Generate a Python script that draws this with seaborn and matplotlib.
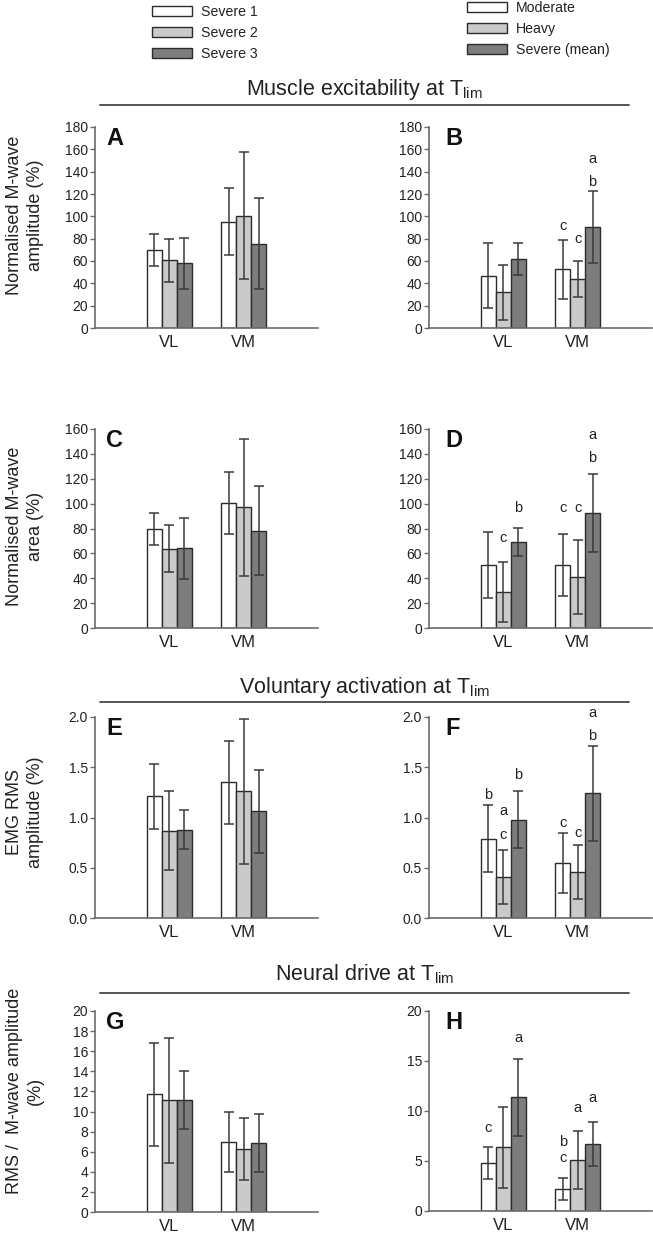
import pandas as pd
import matplotlib.pyplot as plt
import seaborn as sns
from matplotlib.lines import Line2D

# categories
muscles = ["VL", "VM"]
severe_groups = ["Severe 1", "Severe 2", "Severe 3"]
domain_groups = ["Moderate", "Heavy", "Severe (mean)"]

# values: one row per group, [VL, VM]
A_mean = [[70, 95], [60.5, 100.5], [58, 75.5]]
A_sd = [[14.5, 30], [19.5, 57], [22.7, 41]]
B_mean = [[47, 52.5], [32, 44], [62, 90.5]]
B_sd = [[29, 26.7], [24.5, 16], [14.3, 32]]
C_mean = [[79.6, 100.5], [63.8, 97], [64, 78.3]]
C_sd = [[12.5, 25], [19, 55], [24.4, 36]]
D_mean = [[51, 50.7], [29, 41.3], [68.9, 92.5]]
D_sd = [[26.5, 25.2], [24, 29.7], [11.3, 31]]
E_mean = [[1.21, 1.35], [0.87, 1.26], [0.88, 1.06]]
E_sd = [[0.32, 0.41], [0.39, 0.72], [0.19, 0.41]]
F_mean = [[0.79, 0.55], [0.41, 0.46], [0.98, 1.24]]
F_sd = [[0.33, 0.30], [0.27, 0.27], [0.28, 0.47]]
G_mean = [[11.7, 7.0], [11.1, 6.3], [11.15, 6.9]]
G_sd = [[5.15, 3.0], [6.2, 3.1], [2.9, 2.9]]
H_mean = [[4.85, 2.2], [6.4, 5.1], [11.4, 6.7]]
H_sd = [[1.6, 1.07], [4.05, 2.93], [3.85, 2.17]]

# significance letters: (muscle index, group index, letter, y)
B_notes = [(1, 0, "c", 91.5), (1, 1, "c", 80), (1, 2, "b", 131), (1, 2, "a", 151)]
D_notes = [(0, 1, "c", 72), (0, 2, "b", 96.5), (1, 0, "c", 96.5), (1, 1, "c", 96.5),
           (1, 2, "b", 137), (1, 2, "a", 155)]
F_notes = [(0, 0, "b", 1.22), (0, 1, "a", 1.065), (0, 1, "c", 0.83), (0, 2, "b", 1.42),
           (1, 0, "c", 0.95), (1, 1, "c", 0.85), (1, 2, "b", 1.81), (1, 2, "a", 2.04)]
H_notes = [(0, 0, "c", 8.3), (0, 2, "a", 17.3), (1, 0, "b", 6.9), (1, 0, "c", 5.3),
           (1, 1, "a", 10.3), (1, 2, "a", 11.3)]

sns.set_theme(style="ticks")
plt.rcParams["font.family"] = ["Liberation Sans", "DejaVu Sans"]
plt.rcParams["mathtext.fontset"] = "custom"
plt.rcParams["mathtext.rm"] = "Liberation Sans"
plt.rcParams["mathtext.it"] = "Liberation Sans:italic"

W, H = 653, 1240
fig = plt.figure(figsize=(W / 100, H / 100), dpi=100)

fills = ["#ffffff", "#c9cacc", "#7c7d80"]
axis_col = "#6b6b6b"
text_col = "#222222"


def add_ax(left, top, right, bottom):
    return fig.add_axes([left / W, 1 - bottom / H, (right - left) / W, (bottom - top) / H])


def draw_panel(ax, means, sds, groups, ymax, step, letter, letter_x, fmt="{:g}", notes=()):
    rows = []
    for g, m_row, s_row in zip(groups, means, sds):
        for mus, m, s in zip(muscles, m_row, s_row):
            rows.append({"muscle": mus, "group": g, "mean": m, "sd": s})
    df = pd.DataFrame(rows)
    sns.barplot(data=df, x="muscle", y="mean", hue="group", order=muscles,
                hue_order=groups, palette=fills, width=0.6, errorbar=None,
                edgecolor="#2b2b2b", linewidth=1.0, legend=False, ax=ax)
    centers = {}
    for gi, cont in enumerate(ax.containers):
        for bar in cont:
            xc = bar.get_x() + bar.get_width() / 2
            centers[(int(round(xc)), gi)] = xc
    for gi, g in enumerate(groups):
        for mi in range(len(muscles)):
            ax.errorbar(centers[(mi, gi)], means[gi][mi], yerr=sds[gi][mi], fmt="none",
                        ecolor="#3a3a3a", elinewidth=1.1, capsize=3.5, capthick=1.1,
                        zorder=4, clip_on=False)
    for mi, gi, t, y in notes:
        ax.text(centers[(mi, gi)], y, t, ha="center", va="center", fontsize=10.5,
                color=text_col)

    ax.set_xlim(-1, 2)
    ax.set_ylim(0, ymax)
    ticks = [i * step for i in range(int(round(ymax / step)) + 1)]
    ax.set_yticks(ticks)
    ax.set_yticklabels([fmt.format(t) for t in ticks])
    ax.set_xlabel("")
    ax.set_ylabel("")
    sns.despine(ax=ax)
    for side in ["left", "bottom"]:
        ax.spines[side].set_color(axis_col)
        ax.spines[side].set_linewidth(1.2)
    ax.tick_params(axis="y", length=3.5, width=1.0, color=axis_col, labelsize=10,
                   labelcolor=text_col, pad=1.5)
    ax.tick_params(axis="x", length=0, labelsize=12, labelcolor=text_col, pad=5)
    ax.text(letter_x, 0.998, letter, transform=ax.transAxes, fontsize=17,
            fontweight="bold", ha="left", va="top", color="#111111")


ax_a = add_ax(95, 127, 318, 328)
ax_b = add_ax(429, 127, 652, 328)
ax_c = add_ax(95, 429, 318, 628)
ax_d = add_ax(429, 429, 652, 628)
ax_e = add_ax(95, 717, 318, 918)
ax_f = add_ax(429, 717, 652, 918)
ax_g = add_ax(95, 1011, 318, 1212)
ax_h = add_ax(429, 1011, 652, 1211)

lx, rx = 0.049, 0.072
draw_panel(ax_a, A_mean, A_sd, severe_groups, 180, 20, "A", lx)
draw_panel(ax_b, B_mean, B_sd, domain_groups, 180, 20, "B", rx, notes=B_notes)
draw_panel(ax_c, C_mean, C_sd, severe_groups, 160, 20, "C", lx)
draw_panel(ax_d, D_mean, D_sd, domain_groups, 160, 20, "D", rx, notes=D_notes)
draw_panel(ax_e, E_mean, E_sd, severe_groups, 2.0, 0.5, "E", lx, fmt="{:.1f}")
draw_panel(ax_f, F_mean, F_sd, domain_groups, 2.0, 0.5, "F", rx, fmt="{:.1f}", notes=F_notes)
draw_panel(ax_g, G_mean, G_sd, severe_groups, 20, 2, "G", lx)
draw_panel(ax_h, H_mean, H_sd, domain_groups, 20, 5, "H", rx, notes=H_notes)

# legends above the top row
leg_kw = dict(loc="upper left", bbox_transform=fig.transFigure, frameon=False,
              fontsize=10.2, handlelength=2.85, handleheight=0.7, handletextpad=0.6,
              labelspacing=0.5, borderpad=0, borderaxespad=0, labelcolor=text_col)
ax_a.legend([c[0] for c in ax_a.containers], severe_groups,
            bbox_to_anchor=(152 / W, 1 - 4.5 / H), **leg_kw)
ax_b.legend([c[0] for c in ax_b.containers], domain_groups,
            bbox_to_anchor=(467 / W, 1 - 0.5 / H), **leg_kw)

# section headings
sections = [("Muscle excitability at T$_{\\rm lim}$", 95, 105),
            ("Voluntary activation at T$_{\\rm lim}$", 693, 702),
            ("Neural drive at T$_{\\rm lim}$", 980, 993)]
for title, base, line_y in sections:
    fig.text(364.5 / W, 1 - base / H, title, ha="center", va="baseline",
             fontsize=15.5, color=text_col)
    fig.add_artist(Line2D([100 / W, 629 / W], [1 - line_y / H, 1 - line_y / H],
                          color="#555555", lw=1.4))

# y-axis labels
ylabels = [("Normalised M-wave\namplitude (%)", 215),
           ("Normalised M-wave\narea (%)", 526),
           ("EMG RMS\namplitude (%)", 812),
           ("RMS /  M-wave amplitude\n(%)", 1091)]
for lab, yc in ylabels:
    fig.text(25 / W, 1 - yc / H, lab, rotation=90, ha="center", va="center",
             multialignment="center", fontsize=13, linespacing=1.35, color=text_col)

fig.savefig("out.png", dpi=100)
